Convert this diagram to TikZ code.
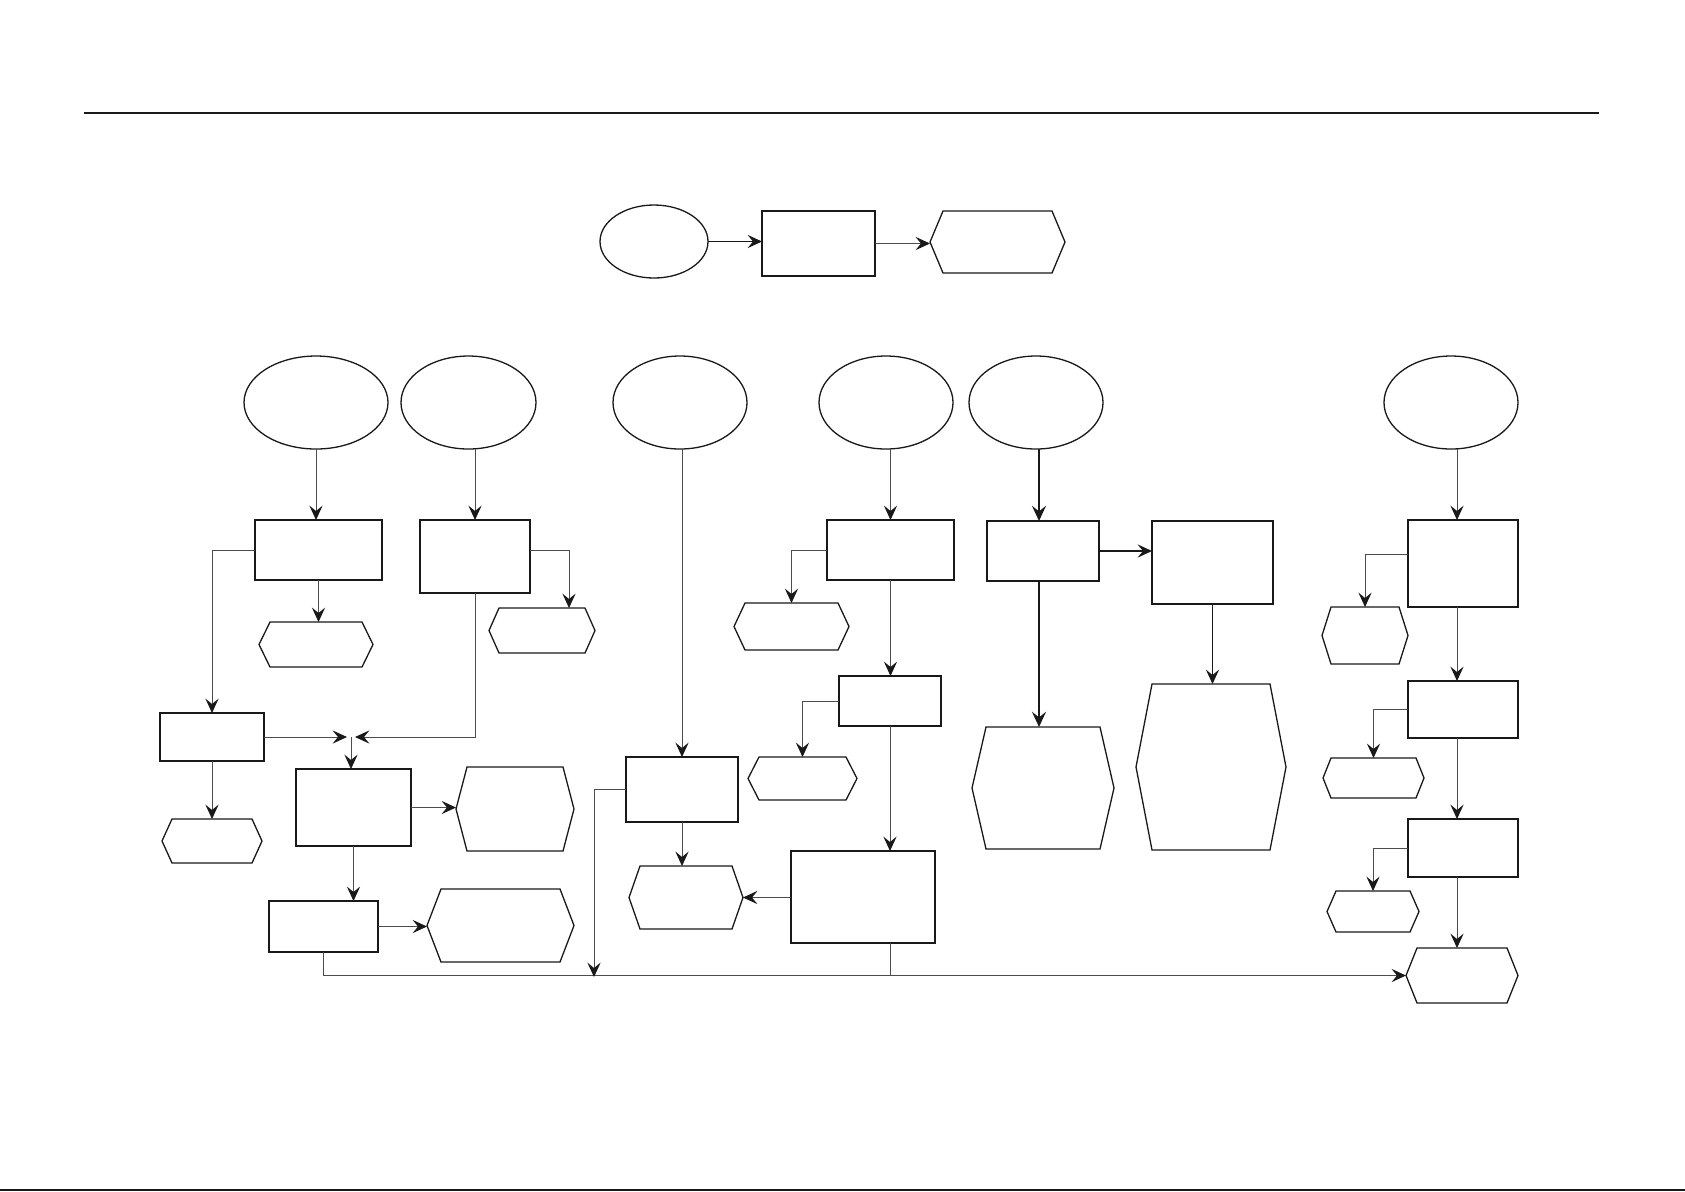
\documentclass[tikz,border=0pt]{standalone}
\usetikzlibrary{arrows.meta,shapes.geometric,calc}
\tikzset{
  shp/.style={draw=black!90, line width=0.65pt},
  tip/.style={-{Stealth[length=7.2pt,width=6.6pt,inset=2.7pt,color=black!90]}},
  conn/.style={draw=black!70, line width=0.5pt, tip},
  connplain/.style={draw=black!70, line width=0.5pt},
  conndark/.style={draw=black!90, line width=0.6pt, tip},
  connthick/.style={draw=black!90, line width=1pt, -{Stealth[length=7.6pt,width=7pt,inset=2.8pt]}},
  rbox/.style={shp, rectangle, inner sep=0pt, outer sep=0pt},
  ebox/.style={shp, ellipse, inner sep=0pt, outer sep=0pt},
  hbox/.style={rectangle, draw=none, inner sep=0pt, outer sep=0pt},
  rule/.style={draw=black!90, line width=1pt},
}
% name, left, top, right, bottom (pixel units)
\newcommand{\mkrect}[5]{\node[rbox, minimum width={(#4-#2)*0.5pt}, minimum height={(#5-#3)*0.5pt}] (#1) at ({(#2+#4)/2},{(#3+#5)/2}) {};}
\newcommand{\mkell}[5]{\node[ebox, minimum width={(#4-#2)*0.5pt}, minimum height={(#5-#3)*0.5pt}] (#1) at ({(#2+#4)/2},{(#3+#5)/2}) {};}
% name, left, top, right, bottom, inset
\newcommand{\mkhex}[6]{%
  \node[hbox, minimum width={(#4-#2)*0.5pt}, minimum height={(#5-#3)*0.5pt}] (#1) at ({(#2+#4)/2},{(#3+#5)/2}) {};
  \draw[shp] ([xshift=#6*0.5pt]#1.north west) -- ([xshift=-#6*0.5pt]#1.north east) -- (#1.east)
    -- ([xshift=-#6*0.5pt]#1.south east) -- ([xshift=#6*0.5pt]#1.south west) -- (#1.west) -- cycle;}
\begin{document}
\begin{tikzpicture}[x=0.5pt,y=-0.5pt]
\useasboundingbox (0,0) rectangle (1685,1191);
% rules
\coordinate (ruleL) at (84,113);
\coordinate (ruleR) at (1599,113);
\draw[rule] (ruleL) -- (ruleR);
\coordinate (edgeL) at (0,1190);
\coordinate (edgeR) at (1685,1190);
\draw[rule] (edgeL) -- (edgeR);
% top row
\mkell{te}{600}{205}{708}{278}
\mkrect{tr}{762}{211}{875}{276}
\mkhex{th}{930}{211}{1065}{273}{13}
\draw[conndark] (te.east) -- (te.east -| tr.west);
\draw[conn] (tr.east) -- (tr.east -| th.west);
% ellipses
\mkell{e1}{244}{356}{388}{449}
\mkell{e2}{401}{356}{536}{449}
\mkell{e3}{613}{356}{747}{449}
\mkell{e4}{819}{356}{953}{449}
\mkell{e5}{969}{356}{1103}{449}
\mkell{e6}{1384}{356}{1518}{449}
% column 1-2
\mkrect{r1}{255}{520}{382}{580}
\mkhex{h1}{259}{622}{373}{667}{11}
\mkrect{r2}{420}{520}{530}{593}
\mkhex{h2}{489}{608}{595}{653}{10}
\mkrect{r3}{160}{713}{264}{761}
\mkhex{h5}{162}{819}{262}{863}{10}
\mkrect{r4}{296}{769}{411}{846}
\mkhex{h3}{456}{767}{574}{851}{11}
\mkrect{r5}{269}{901}{378}{952}
\mkhex{h4}{427}{889}{574}{962}{14}
% middle
\mkrect{r6}{626}{757}{738}{822}
\mkhex{h6}{629}{866}{743}{929}{11}
\mkrect{r7}{791}{851}{935}{943}
% column 4
\mkrect{r8}{827}{520}{954}{580}
\mkhex{h7}{734}{603}{849}{650}{11}
\mkrect{r9}{839}{676}{941}{726}
\mkhex{h8}{748}{757}{857}{800}{11}
% column 5
\mkrect{r10}{987}{521}{1099}{581}
\mkrect{r11}{1152}{521}{1273}{604}
\mkhex{h9}{972}{727}{1114}{849}{14}
\mkhex{h10}{1136}{684}{1286}{850}{16}
% column 6
\mkrect{r12}{1408}{520}{1518}{607}
\mkhex{h11}{1322}{607}{1408}{664}{9}
\mkrect{r13}{1408}{681}{1518}{738}
\mkhex{h12}{1323}{758}{1424}{798}{8}
\mkrect{r14}{1408}{819}{1518}{877}
\mkhex{h13}{1327}{891}{1419}{932}{9}
\mkhex{h14}{1406}{948}{1518}{1003}{11}
% helper coordinates
\coordinate (jL) at (347,737);
\coordinate (jR) at (355,737);
\coordinate (jc) at (351,737);
\coordinate (busA) at (594,977);
\coordinate (c5) at (1039,0);
\coordinate (c6) at (1457,0);
% connectors column 1-2
\draw[conn] (e1.south) -- (e1.south |- r1.north);
\draw[conn] (r1.south) -- (r1.south |- h1.north);
\draw[conn] (r1.west) -| (r3.north);
\draw[conn] (r3.south) -- (r3.south |- h5.north);
\draw[conn] (r3.east) -- (jL);
\draw[conn] (r2.north |- e2.south) -- (r2.north);
\draw[conn] (r2.east |- r1.west) -| ([xshift=13.5pt]h2.north);
\draw[conn] (r2.south) |- (jR);
\draw[conn] (jc) -- (jc |- r4.north);
\draw[conn] (r4.east) -- (r4.east -| h3.west);
\draw[conn] (r4.south) -- (r4.south |- r5.north);
\draw[conn] (r5.east) -- (r5.east -| h4.west);
\draw[conn] (r5.south) |- (h14.west);
% middle
\draw[conn] (r6.north |- e3.south) -- (r6.north);
\draw[conn] (r6.west) -| (busA);
\draw[conn] (r6.south) -- (r6.south |- h6.north);
\draw[conn] (r7.west |- h6.east) -- (h6.east);
\draw[connplain] (r9.south |- r7.south) -- (r9.south |- h14.west);
% column 4
\draw[conn] (r8.north |- e4.south) -- (r8.north);
\draw[conn] (r8.west) -| (h7.north);
\draw[conn] (r8.south) -- (r8.south |- r9.north);
\draw[conn] (r9.west) -| (h8.north);
\draw[conn] (r9.south) -- (r9.south |- r7.north);
% column 5
\draw[connthick] (c5 |- e5.south) -- (c5 |- r10.north);
\draw[conndark] (r10.east) -- (r10.east -| r11.west);
\draw[connthick] (c5 |- r10.south) -- (c5 |- h9.north);
\draw[conndark] (r11.south) -- (r11.south |- h10.north);
% column 6
\draw[conn] (c6 |- e6.south) -- (c6 |- r12.north);
\draw[conn] ([yshift=4.5pt]r12.west) -| (h11.north);
\draw[conn] (c6 |- r12.south) -- (c6 |- r13.north);
\draw[conn] (r13.west) -| (h12.north);
\draw[conn] (c6 |- r13.south) -- (c6 |- r14.north);
\draw[conn] (r14.west) -| (h13.north);
\draw[conn] (c6 |- r14.south) -- (c6 |- h14.north);
\end{tikzpicture}
\end{document}
